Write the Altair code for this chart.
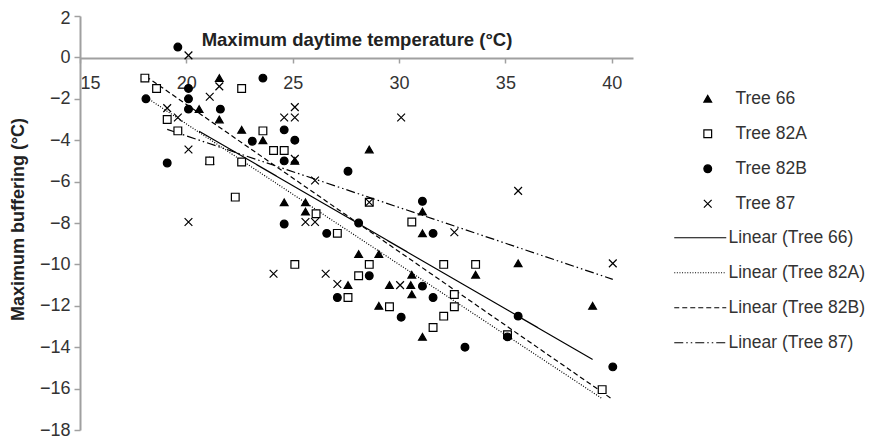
import altair as alt
import pandas as pd

# Tree 66 (filled triangles)
t66_x = [20.6, 21.55, 21.55, 21.1, 22.6, 23.6, 25.1, 24.6, 25.6, 25.6, 28.6, 31.1,
         31.1, 28.1, 29.05, 30.6, 33.6, 27.6, 29.55, 30.55, 30.6, 29.05, 31.1, 35.6, 39.1]
t66_y = [-2.5, -1.0, -3.0, -5.0, -3.5, -4.0, -5.0, -7.0, -7.0, -7.45, -4.45, -7.45,
         -8.5, -9.5, -9.5, -10.5, -10.5, -11.0, -11.0, -11.0, -11.45, -12.0, -13.5, -9.95, -12.0]

# Tree 82A (open squares)
t82a_x = [18.05, 18.6, 19.1, 19.6, 21.1, 22.6, 22.6, 22.3, 23.6, 24.1, 24.6, 26.1, 25.1, 28.6,
          30.6, 27.1, 28.6, 32.1, 28.1, 33.6, 32.6, 32.6, 27.6, 29.55, 32.1, 31.6, 35.1, 39.55]
t82a_y = [-1.0, -1.5, -3.0, -3.55, -5.0, -1.5, -5.05, -6.75, -3.55, -4.5, -4.5, -7.55, -10.0, -7.0,
          -7.95, -8.5, -10.0, -10.0, -10.55, -10.0, -11.45, -12.05, -11.6, -12.05, -12.5, -13.05, -13.4, -16.05]

# Tree 82B (filled circles)
t82b_x = [19.6, 18.1, 19.1, 20.1, 20.1, 20.1, 21.6, 23.1, 23.6, 24.6, 25.1, 24.6, 24.6, 26.6,
          27.6, 31.1, 28.1, 31.6, 28.6, 31.1, 31.6, 27.1, 30.1, 33.1, 35.6, 35.1, 40.05]
t82b_y = [0.5, -2.0, -5.1, -1.5, -2.0, -2.5, -2.5, -4.05, -1.0, -3.5, -4.0, -5.0, -8.05, -8.5,
          -5.5, -6.95, -8.0, -8.5, -10.55, -11.05, -11.6, -11.6, -12.55, -14.0, -12.5, -13.5, -14.95]

# Tree 87 (crosses)
t87_x = [20.1, 19.1, 19.6, 20.1, 20.1, 21.55, 21.1, 25.1, 24.6, 25.1, 25.1, 26.05, 25.6, 26.05,
         24.1, 26.55, 30.1, 28.6, 27.1, 30.05, 32.6, 35.6, 40.05]
t87_y = [0.1, -2.45, -2.9, -4.45, -7.95, -1.4, -1.9, -4.9, -2.9, -2.9, -2.4, -5.95, -7.95, -7.95,
         -10.45, -10.45, -2.9, -7.0, -10.95, -11.0, -8.45, -6.45, -9.95]

series_names = ["Tree 66", "Tree 82A", "Tree 82B", "Tree 87"]
trend_names = ["Linear (Tree 66)", "Linear (Tree 82A)", "Linear (Tree 82B)", "Linear (Tree 87)"]
x_ticks = [15, 20, 25, 30, 35, 40]
y_ticks = [2, 0, -2, -4, -6, -8, -10, -12, -14, -16, -18]

rows = []
for name, xs, ys in zip(series_names, [t66_x, t82a_x, t82b_x, t87_x], [t66_y, t82a_y, t82b_y, t87_y]):
    for a, b in zip(xs, ys):
        rows.append({"series": name, "temp": a, "buffer": b})
df = pd.DataFrame(rows)

FONT = "Liberation Sans"

x_enc = alt.X("temp:Q",
              scale=alt.Scale(domain=[15, 41], nice=False, zero=False),
              axis=alt.Axis(values=x_ticks, orient="bottom", offset=-372, grid=False,
                            title="Maximum daytime temperature (°C)",
                            titleX=276.5, titleY=-13, titleAlign="center", titleBaseline="alphabetic",
                            titleFontSize=18.5,
                            tickSize=5, labelPadding=11, format="d"))
y_enc = alt.Y("buffer:Q",
              scale=alt.Scale(domain=[-18, 2], nice=False, zero=False),
              axis=alt.Axis(values=y_ticks, grid=False, title="Maximum buffering (°C)",
                            titleX=-62, titleY=203, titleAlign="center", titleBaseline="middle",
                            titleAngle=270, tickSize=6, labelPadding=4, format="d",
                            labelOffset={"condition": {"test": "datum.value == 2", "value": 2},
                                         "value": 0}))

pt_legend = alt.Legend(title=None, orient="none", legendX=619, legendY=74,
                       symbolSize=60, symbolStrokeWidth=1.2,
                       labelOffset=19, rowPadding=16, padding=0)

points = alt.Chart(df).mark_point(size=60, strokeWidth=1.2, opacity=1).encode(
    x=x_enc, y=y_enc,
    shape=alt.Shape("series:N",
                    scale=alt.Scale(domain=series_names,
                                    range=["triangle-up", "square", "circle", "M-1,-1L1,1M-1,1L1,-1"]),
                    legend=pt_legend),
    fill=alt.Fill("series:N",
                  scale=alt.Scale(domain=series_names,
                                  range=["black", "white", "black", "transparent"]),
                  legend=pt_legend),
    stroke=alt.Stroke("series:N",
                      scale=alt.Scale(domain=series_names,
                                      range=["black", "black", "black", "black"]),
                      legend=pt_legend),
)

lines = alt.Chart(df).transform_regression(
    "temp", "buffer", groupby=["series"]
).transform_calculate(
    trend='"Linear (" + datum.series + ")"'
).mark_line(color="black", strokeWidth=1.2).encode(
    x=alt.X("temp:Q"), y=alt.Y("buffer:Q"),
    strokeDash=alt.StrokeDash("trend:N",
                              scale=alt.Scale(domain=trend_names,
                                              range=[[1, 0], [1, 1.6], [5, 3], [9, 3, 1.5, 3, 1.5, 3]]),
                              legend=alt.Legend(title=None, orient="none", legendX=611.5, legendY=213,
                                                symbolType="M-4,0H4", symbolSize=169,
                                                symbolStrokeColor="black", symbolStrokeWidth=1.2,
                                                labelOffset=19.5, rowPadding=16, padding=0)),
)

chart = alt.layer(lines, points).properties(
    width=553, height=414,
    autosize=alt.AutoSizeParams(type="none"),
    padding={"left": 72, "top": 8, "right": 234, "bottom": 9},
).configure_view(stroke=None).configure_axis(
    labelFont=FONT, labelFontSize=18, labelColor="#333333",
    titleFont=FONT, titleFontSize=18, titleFontWeight="bold", titleColor="#222222",
    domainColor="#a0a0a0", domainWidth=2, tickColor="#a0a0a0", tickWidth=1.5,
).configure_legend(
    labelFont=FONT, labelFontSize=17.5, labelColor="#333333",
)

chart.save("out.html", embed_options={"renderer": "svg", "actions": False})
